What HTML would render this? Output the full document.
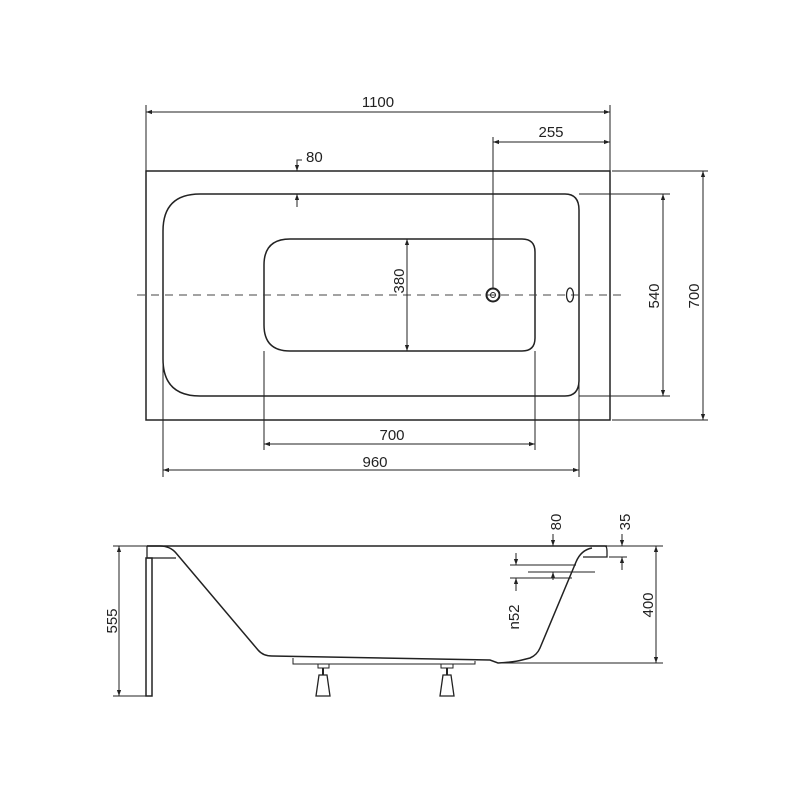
<!DOCTYPE html>
<html><head><meta charset="utf-8"><style>
html,body{margin:0;padding:0;background:#fff;}
svg{display:block;}
text{font-family:"Liberation Sans",sans-serif;font-size:15px;fill:#222;}
</style></head><body>
<svg width="800" height="800" viewBox="0 0 800 800" xmlns="http://www.w3.org/2000/svg">
<defs>
<marker id="a" viewBox="0 0 10 10" refX="10" refY="5" markerWidth="8" markerHeight="6" orient="auto-start-reverse" markerUnits="userSpaceOnUse">
<path d="M0,1.5 L10,5 L0,8.5 z" fill="#222"/></marker>
</defs>
<g stroke="#222" stroke-width="1" fill="none">
<rect x="146" y="171" width="464" height="249" stroke-width="1.5"/>
<path d="M200,194 H565 Q579,194 579,210 V380 Q579,396 565,396 H200 Q163,396 163,359 V231 Q163,194 200,194 Z" stroke-width="1.5"/>
<path d="M290,239 H522 Q535,239 535,252 V338 Q535,351 522,351 H290 Q264,351 264,325 V265 Q264,239 290,239 Z" stroke-width="1.5"/>
<line x1="137" y1="295" x2="625" y2="295" stroke-dasharray="8,6" stroke="#444"/>
<circle cx="493" cy="295" r="6.5" stroke-width="2"/>
<circle cx="493" cy="295" r="2.5"/>
<ellipse cx="570" cy="295" rx="3.5" ry="7" stroke-width="1.3"/>
<line x1="146" y1="105" x2="146" y2="171"/>
<line x1="610" y1="105" x2="610" y2="171"/>
<line x1="146" y1="112" x2="610" y2="112" marker-start="url(#a)" marker-end="url(#a)"/>
<line x1="493" y1="137" x2="493" y2="289"/>
<line x1="493" y1="142" x2="610" y2="142" marker-start="url(#a)" marker-end="url(#a)"/>
<path d="M297,171 V160 H302"/>
<line x1="297" y1="160" x2="297" y2="171" marker-end="url(#a)"/>
<line x1="297" y1="207" x2="297" y2="194" marker-end="url(#a)"/>
<line x1="407" y1="239" x2="407" y2="351" marker-start="url(#a)" marker-end="url(#a)"/>
<line x1="579" y1="194" x2="670" y2="194"/>
<line x1="579" y1="396" x2="670" y2="396"/>
<line x1="663" y1="194" x2="663" y2="396" marker-start="url(#a)" marker-end="url(#a)"/>
<line x1="612" y1="171" x2="708" y2="171"/>
<line x1="612" y1="420" x2="708" y2="420"/>
<line x1="703" y1="171" x2="703" y2="420" marker-start="url(#a)" marker-end="url(#a)"/>
<line x1="264" y1="351" x2="264" y2="450"/>
<line x1="535" y1="351" x2="535" y2="450"/>
<line x1="264" y1="444" x2="535" y2="444" marker-start="url(#a)" marker-end="url(#a)"/>
<line x1="163" y1="359" x2="163" y2="477"/>
<line x1="579" y1="380" x2="579" y2="477"/>
<line x1="163" y1="470" x2="579" y2="470" marker-start="url(#a)" marker-end="url(#a)"/>

<line x1="147" y1="546" x2="607" y2="546" stroke-width="1.5"/>
<rect x="146" y="558" width="6" height="138" stroke-width="1.5"/>
<path d="M147,546 H160 Q170,546 176,553 L258,650 Q263,656 272,656 L490,660 L498,663 Q515,662 522,660 L530,658 Q537,655 540,648 L576,562 Q581,550 592,548" stroke-width="1.5"/>
<path d="M147,546 V558 H176" stroke-width="1.3"/>
<path d="M590,546 H605 Q607,546 607,552 V557 H583" stroke-width="1.3"/>
<path d="M293,658 V664 H475 V661" stroke-width="1"/>
<rect x="318" y="664" width="11" height="4" stroke-width="1"/>
<line x1="323" y1="668" x2="323" y2="675" stroke-width="2"/>
<path d="M319,675 H327 L330,696 H316 Z" stroke-width="1.3"/>
<rect x="441" y="664" width="12" height="4" stroke-width="1"/>
<line x1="447" y1="668" x2="447" y2="675" stroke-width="2"/>
<path d="M443,675 H451 L454,696 H440 Z" stroke-width="1.3"/>
<line x1="113" y1="546" x2="147" y2="546"/>
<line x1="113" y1="696" x2="146" y2="696"/>
<line x1="119" y1="546" x2="119" y2="696" marker-start="url(#a)" marker-end="url(#a)"/>
<line x1="607" y1="546" x2="663" y2="546"/>
<line x1="500" y1="663" x2="663" y2="663"/>
<line x1="656" y1="546" x2="656" y2="663" marker-start="url(#a)" marker-end="url(#a)"/>
<line x1="553" y1="534" x2="553" y2="546" marker-end="url(#a)"/>
<line x1="609" y1="557" x2="627" y2="557"/>
<line x1="622" y1="534" x2="622" y2="546" marker-end="url(#a)"/>
<line x1="622" y1="570" x2="622" y2="557" marker-end="url(#a)"/>
<line x1="510" y1="565" x2="576" y2="565"/>
<line x1="528" y1="572" x2="595" y2="572"/>
<line x1="510" y1="578" x2="572" y2="578"/>
<line x1="516" y1="553" x2="516" y2="565" marker-end="url(#a)"/>
<line x1="516" y1="591" x2="516" y2="578" marker-end="url(#a)"/>
<line x1="553" y1="572" x2="553" y2="580" marker-start="url(#a)"/>
</g>
<text x="378" y="107" text-anchor="middle">1100</text>
<text x="551" y="137" text-anchor="middle">255</text>
<text x="306" y="162">80</text>
<text transform="translate(404,281) rotate(-90)" text-anchor="middle">380</text>
<text transform="translate(659,296) rotate(-90)" text-anchor="middle">540</text>
<text transform="translate(699,296) rotate(-90)" text-anchor="middle">700</text>
<text x="392" y="440" text-anchor="middle">700</text>
<text x="375" y="467" text-anchor="middle">960</text>
<text transform="translate(117,621) rotate(-90)" text-anchor="middle">555</text>
<text transform="translate(653,605) rotate(-90)" text-anchor="middle">400</text>
<text transform="translate(561,522) rotate(-90)" text-anchor="middle">80</text>
<text transform="translate(630,522) rotate(-90)" text-anchor="middle">35</text>
<text transform="translate(519,617) rotate(-90)" text-anchor="middle">n52</text>
</svg>
</body></html>
